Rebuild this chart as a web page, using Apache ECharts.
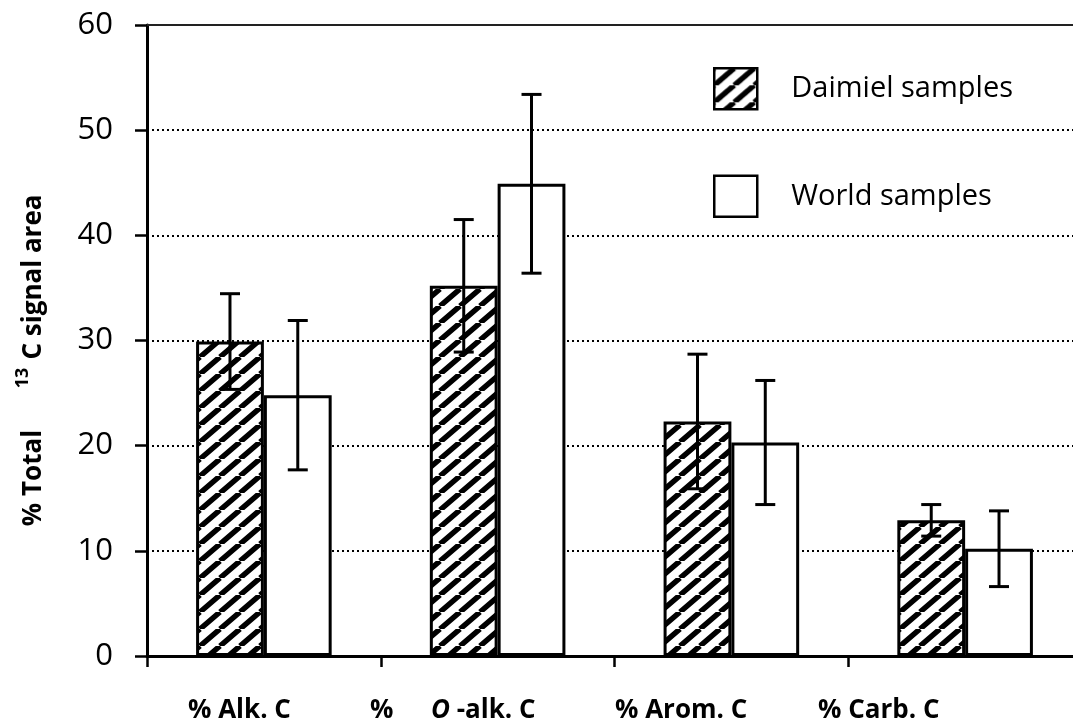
<!DOCTYPE html>
<html>
<head>
<meta charset="utf-8">
<script src="https://cdn.jsdelivr.net/npm/echarts@6/dist/echarts.min.js"></script>
<style>
html,body{margin:0;padding:0;background:#fff;}
#c{width:1073px;height:728px;}
</style>
</head>
<body>
<div id="c"></div>
<script>
// ---- data ----
const categories = ['% Alk. C', '% O-alk. C', '% Arom. C', '% Carb. C'];
const seriesNames = ['Daimiel samples', 'World samples'];
const daimiel = [29.9, 35.2, 22.3, 12.9];
const daimielErr = [4.55, 6.3, 6.4, 1.5];
const world = [24.8, 44.9, 20.3, 10.2];
const worldErr = [7.1, 8.5, 5.9, 3.6];
const yMin = 0, yMax = 60, yStep = 10;
const yTitleMain = ['% Total', 'C signal area'];
const yTitleSup = '13';

// ---- hatch pattern ----
function hatch() {
  const w = 20, h = 17;
  const c = document.createElement('canvas');
  c.width = w; c.height = h;
  const g = c.getContext('2d');
  g.fillStyle = '#fff'; g.fillRect(0, 0, w, h);
  g.strokeStyle = '#000'; g.lineWidth = 5.5;
  g.beginPath();
  for (let k = -1; k <= 1; k++) { g.moveTo(k * w, h); g.lineTo(k * w + w, 0); }
  g.stroke();
  return c;
}

const BAR_FRAC = 0.29;
function errRender(side) {
  return function (params, api) {
    const i = api.value(0);
    const lo = api.coord([i, api.value(1)]);
    const hi = api.coord([i, api.value(2)]);
    const bw = api.size([1, 0])[0] * BAR_FRAC;
    const x = lo[0] + side * bw / 2;
    const cap = 10;
    const st = { stroke: '#000', lineWidth: 3 };
    return {
      type: 'group',
      children: [
        { type: 'line', shape: { x1: x, y1: lo[1], x2: x, y2: hi[1] }, style: st },
        { type: 'line', shape: { x1: x - cap, y1: hi[1], x2: x + cap, y2: hi[1] }, style: st },
        { type: 'line', shape: { x1: x - cap, y1: lo[1], x2: x + cap, y2: lo[1] }, style: st }
      ]
    };
  };
}

const FONT = '"Open Sans", "DejaVu Sans", sans-serif';
const chart = echarts.init(document.getElementById('c'), null, { renderer: 'canvas' });
const lblStyle = { fontFamily: FONT, fontWeight: 'bold', fontSize: 26, fill: '#000', textVerticalAlign: 'middle' };

chart.setOption({
  animation: false,
  backgroundColor: '#fff',
  grid: { left: 147, width: 935, top: 25, bottom: 72, containLabel: false, outerBoundsMode: 'none' },
  legend: {
    left: 708, top: 62, orient: 'vertical',
    itemWidth: 43, itemHeight: 41, itemGap: 64,
    icon: 'rect', selectedMode: false,
    data: seriesNames,
    itemStyle: { borderWidth: 2.5 },
    textStyle: { fontFamily: FONT, fontSize: 29, color: '#000', padding: [0, 0, 0, 29] }
  },
  xAxis: [{
    type: 'category', data: categories,
    axisLine: { show: true, lineStyle: { color: '#000', width: 3 } },
    axisTick: { show: true, length: 11, lineStyle: { color: '#000', width: 2.5 } },
    axisLabel: { show: false },
    splitLine: { show: false }
  }, {
    type: 'category', data: categories, position: 'top',
    axisLine: { show: true, lineStyle: { color: '#222', width: 2 } },
    axisTick: { show: false }, axisLabel: { show: false }, splitLine: { show: false }
  }],
  yAxis: {
    type: 'value', min: yMin, max: yMax, interval: yStep,
    axisLine: { show: true, lineStyle: { color: '#000', width: 3 } },
    axisTick: { show: true, length: 12, lineStyle: { color: '#000', width: 2.5 } },
    axisLabel: { fontFamily: FONT, fontSize: 31, color: '#000', margin: 34 },
    splitLine: { show: true, lineStyle: { color: '#000', width: 2, type: [2, 3] } }
  },
  series: [
    {
      name: seriesNames[0], type: 'bar', data: daimiel,
      barWidth: (BAR_FRAC * 100) + '%', barGap: '0%',
      itemStyle: { color: { image: hatch(), repeat: 'repeat' }, borderColor: '#000', borderWidth: 3 }
    },
    {
      name: seriesNames[1], type: 'bar', data: world,
      barWidth: (BAR_FRAC * 100) + '%', barGap: '0%',
      itemStyle: { color: '#fff', borderColor: '#000', borderWidth: 3 }
    },
    {
      type: 'custom', renderItem: errRender(-1), silent: true, z: 10,
      encode: { x: 0, y: [1, 2] },
      data: daimiel.map((v, i) => [i, v - daimielErr[i], v + daimielErr[i]])
    },
    {
      type: 'custom', renderItem: errRender(1), silent: true, z: 10,
      encode: { x: 0, y: [1, 2] },
      data: world.map((v, i) => [i, v - worldErr[i], v + worldErr[i]])
    }
  ],
  graphic: [
    { type: 'text', left: 188, top: 698, style: Object.assign({ text: categories[0] }, lblStyle) },
    { type: 'text', left: 370, top: 698, style: Object.assign({ text: '%' }, lblStyle) },
    { type: 'text', left: 431, top: 698, style: Object.assign({
        text: '{i|O} -alk. C',
        rich: { i: { fontStyle: 'italic', fontFamily: FONT, fontWeight: 'bold', fontSize: 26 } }
      }, lblStyle) },
    { type: 'text', left: 615, top: 698, style: Object.assign({ text: categories[2] }, lblStyle) },
    { type: 'text', left: 818, top: 698, style: Object.assign({ text: categories[3] }, lblStyle) },
    { type: 'text', x: 34, y: 478, rotation: Math.PI / 2,
      style: { text: yTitleMain[0], fontFamily: FONT, fontWeight: 'bold', fontSize: 26, fill: '#000', align: 'center', verticalAlign: 'middle' } },
    { type: 'text', x: 23, y: 378, rotation: Math.PI / 2,
      style: { text: yTitleSup, fontFamily: FONT, fontWeight: 'bold', fontSize: 18, fill: '#000', align: 'center', verticalAlign: 'middle' } },
    { type: 'text', x: 34, y: 277, rotation: Math.PI / 2,
      style: { text: yTitleMain[1], fontFamily: FONT, fontWeight: 'bold', fontSize: 26, fill: '#000', align: 'center', verticalAlign: 'middle' } }
  ]
});
</script>
</body>
</html>
